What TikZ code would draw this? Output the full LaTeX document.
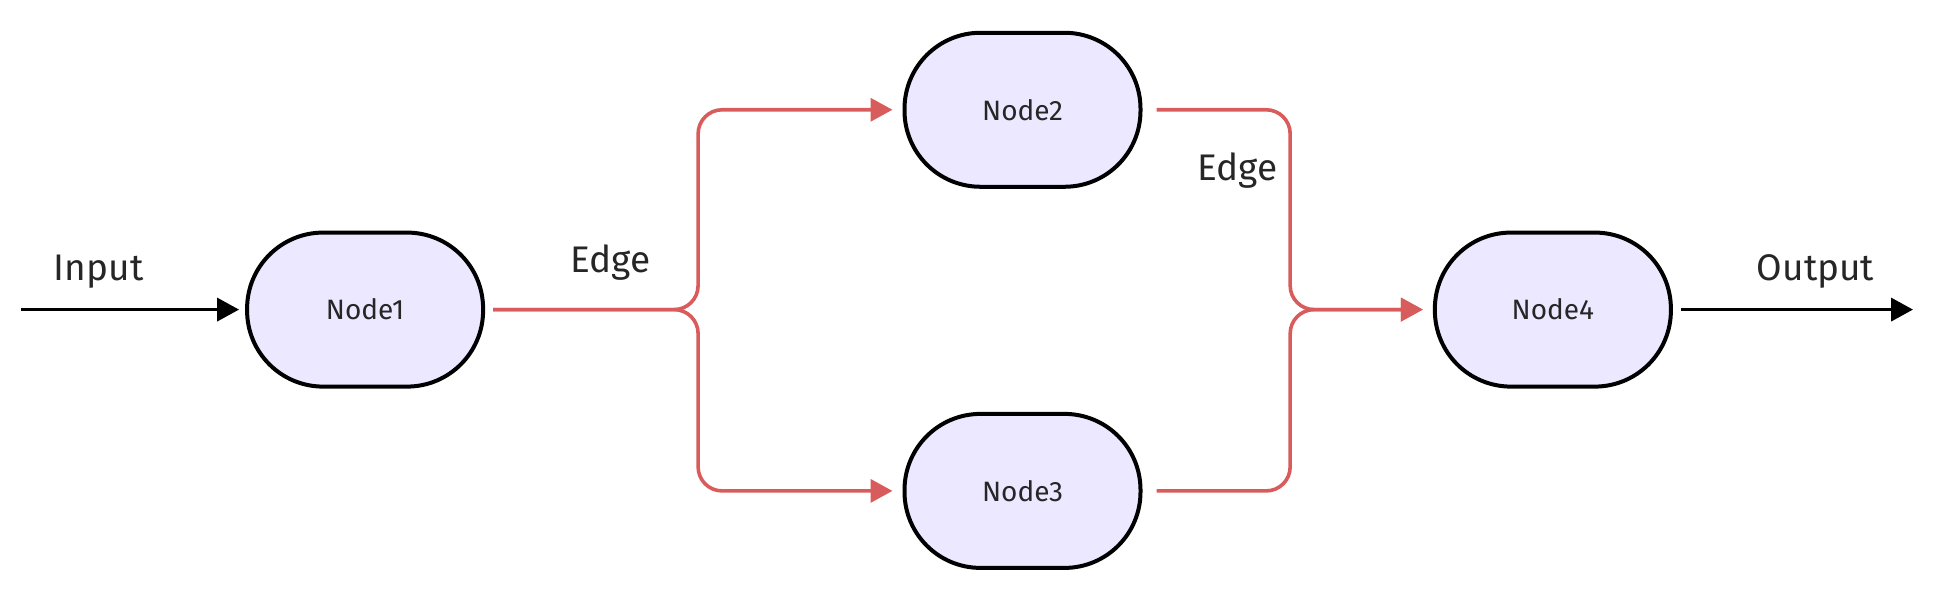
\documentclass[tikz,border=0pt]{standalone}
\usepackage{fontspec}
\setmainfont{Fira Sans}
\usetikzlibrary{arrows.meta}
\definecolor{nodefill}{RGB}{236,232,255}
\definecolor{edgered}{RGB}{217,92,92}
\tikzset{
	flownode/.style={draw=black,line width=2pt,fill=nodefill,rounded corners=38pt,
		minimum width=118pt,minimum height=77pt,inner sep=0pt,font=\fontsize{14}{16}\selectfont,text=black!85},
	redline/.style={edgered,line width=1.8pt,rounded corners=12pt,-{Triangle[length=11pt,width=11.5pt]}},
	blackline/.style={black,line width=1.8pt,-{Triangle[length=11pt,width=11.5pt]}},
	lbl/.style={font=\fontsize{18.5}{22}\selectfont,text=black!85}
}
\begin{document}
\begin{tikzpicture}[x=0.6167pt,y=0.6167pt]
				%\draw [help lines] (0,0) grid (1568,-478);
				\useasboundingbox (0,0) rectangle (1568,-478);
				\node[flownode] (n1) at (296,-251) {Node1};
				\node[flownode] (n2) at (829,-89) {Node2};
				\node[flownode] (n3) at (829,-398) {Node3};
				\node[flownode] (n4) at (1259,-251) {Node4};
				\coordinate (in) at (17,-251);
				\coordinate (out) at (1551,-251);
				\draw[blackline,shorten >=3pt] (in) -- (n1.west);
				\draw[blackline,shorten <=4pt] (n4.east) -- (out);
				\draw[redline,shorten <=4pt,shorten >=5pt] (n1.east) -| (566,-89) -- (n2.west);
				\draw[redline,shorten <=4pt,shorten >=5pt] (n1.east) -| (566,-398) -- (n3.west);
				\draw[redline,shorten <=7pt,shorten >=5pt] (n2.east) -| (1046,-251) -- (n4.west);
				\draw[redline,shorten <=7pt,shorten >=5pt] (n3.east) -| (1046,-251) -- (n4.west);
				\node[lbl] (lin) at (80,-220) {Input};
				\node[lbl] (le1) at (495,-213) {Edge};
				\node[lbl] (le2) at (1003,-138) {Edge};
				\node[lbl] (lout) at (1472,-220) {Output};
\end{tikzpicture}
\end{document}
